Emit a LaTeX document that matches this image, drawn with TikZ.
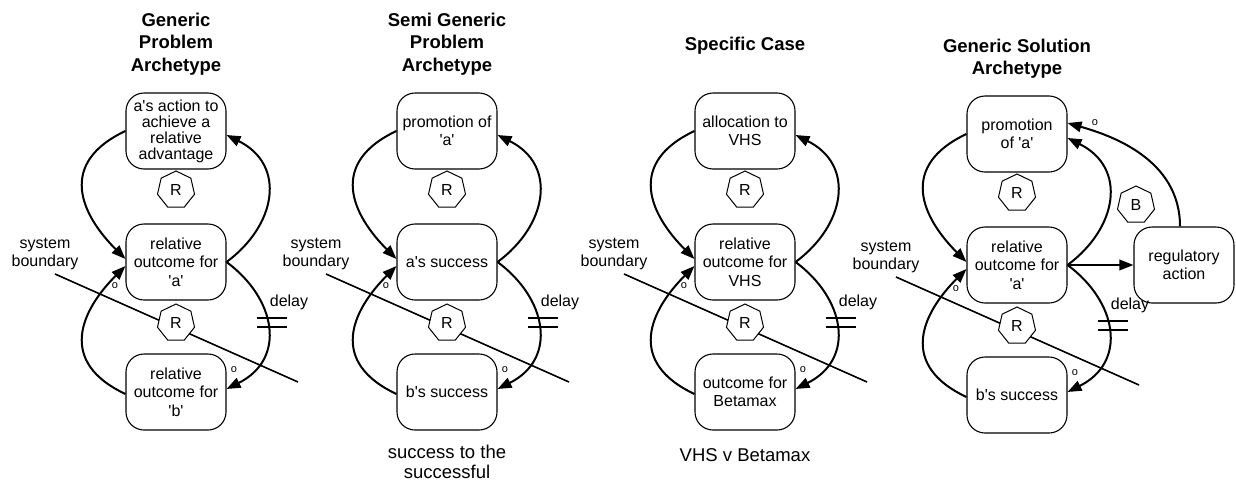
\documentclass[tikz,border=0pt]{standalone}
\usepackage{fontspec}
\setmainfont{Liberation Sans}[Ligatures=TeXOff]
\usetikzlibrary{arrows.meta,shapes.geometric,calc}
\tikzset{
  box/.style={draw, line width=1.1pt, rounded corners=18pt, minimum width=100pt, minimum height=76pt, align=center, inner sep=1pt, font=\fontsize{16}{18.4}\selectfont},
  loopmark/.style={draw, fill=white, regular polygon, regular polygon sides=7, minimum size=38pt, inner sep=0pt, line width=1pt, font=\fontsize{16}{18}\selectfont},
  link/.style={line width=2pt, -{Triangle[length=14pt,width=10.5pt]}},
  boundary/.style={line width=1.6pt},
  delaymark/.style={line width=1.6pt},
  lbl/.style={font=\fontsize{16}{18.4}\selectfont, align=center, inner sep=0pt},
  pol/.style={font=\fontsize{11}{12}\selectfont, inner sep=0pt},
  ttl/.style={font=\fontsize{18.5}{22.5}\selectfont\bfseries, align=center},
  caption/.style={font=\fontsize{18.5}{20}\selectfont, align=center},
}
% #1 prefix, #2 x, #3 y shift, #4 top, #5 middle, #6 bottom, #7 extra top box options
\newcommand\archpanel[7]{%
\begin{scope}[shift={(#2,#3)}]
  \coordinate (#1bs) at (-121,274);
  \coordinate (#1be) at (122,382);
  \draw[boundary] (#1bs) -- (#1be);
  \node[box,#7] (#1t) at (0,131) {#4};
  \node[box] (#1m) at (0,262) {#5};
  \node[box] (#1b) at (0,392) {#6};
  \node[loopmark] (#1r1) at (0,190) {R};
  \node[loopmark] (#1r2) at (0,323) {R};
  \draw[link] (#1t.west) .. controls +(-68,32) and +(-45,-45) .. ($(#1m.west)+(0,-3)$);
  \draw[link] (#1m.east) .. controls +(50,-37) and +(60,30) .. ($(#1t.east)+(0,4)$);
  \draw[link] (#1m.east) .. controls +(50,37) and +(60,-30) .. ($(#1b.east)+(0,-3)$);
  \draw[link] ($(#1b.west)+(0,2)$) .. controls +(-68,-32) and +(-45,45) .. ($(#1m.west)+(0,4)$);
  \coordinate (#1da1) at (81,318); \coordinate (#1db1) at (111,318);
  \coordinate (#1da2) at (81,327); \coordinate (#1db2) at (111,327);
  \draw[delaymark] (#1da1) -- (#1db1);
  \draw[delaymark] (#1da2) -- (#1db2);
  \node[lbl] (#1sb) at (-131,254) {system\\boundary};
  \node[lbl] (#1dl) at (113,302) {delay};
  \node[pol] (#1o1) at (-61,286) {o};
  \node[pol] (#1o2) at (58,370) {o};
\end{scope}}
\begin{document}
\begin{tikzpicture}[x=1pt,y=-1pt]
\useasboundingbox[fill=white] (0,0) rectangle (1236,482);

\node[ttl] (title1) at (176,44) {Generic\\Problem\\Archetype};
\archpanel{A}{176}{0}{a's action to\\achieve a\\relative\\advantage}{relative\\outcome for\\'a'}{relative\\outcome for\\'b'}{font=\fontsize{16}{16}\selectfont}

\node[ttl] (title2) at (447,44) {Semi Generic\\Problem\\Archetype};
\archpanel{S}{447}{0}{promotion of\\'a'}{a's success}{b's success}{}
\node[caption] (cap2) at (447,462) {success to the\\successful};

\node[ttl] (title3) at (745,46) {Specific Case};
\archpanel{C}{745}{0}{allocation to\\VHS}{relative\\outcome for\\VHS}{outcome for\\Betamax}{}
\node[caption] (cap3) at (745,455) {VHS v Betamax};

\node[ttl] (title4) at (1017,58.5) {Generic Solution\\Archetype};
\archpanel{D}{1017}{3}{promotion\\of 'a'}{relative\\outcome for\\'a'}{b's success}{}
\node[box] (reg) at (1184,265) {regulatory\\action};
\draw[link] (Dm.east) -- (reg.west);
\draw[link] ($(reg.north)+(-4,0)$) .. controls +(0,-68) and +(42,12) .. ($(Dt.east)+(0,-11)$);
\node[pol] (Do3) at (1095,123) {o};
\node[loopmark] (Bl) at (1136,205) {B};
\end{tikzpicture}
\end{document}
